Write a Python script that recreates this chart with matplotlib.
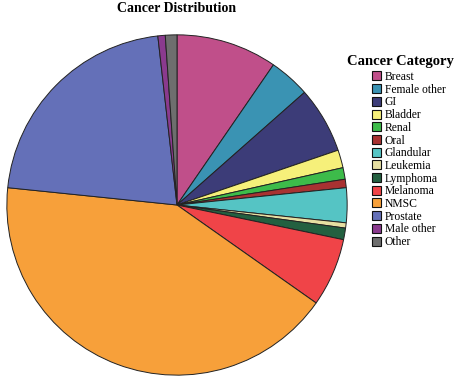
import numpy as np
import matplotlib.pyplot as plt

categories = ['Breast', 'Female other', 'GI', 'Bladder', 'Renal', 'Oral', 'Glandular',
              'Leukemia', 'Lymphoma', 'Melanoma', 'NMSC', 'Prostate', 'Male other', 'Other']
share = [9.6, 3.9, 6.3, 1.7, 1.1, 0.8, 3.3, 0.5, 1.1, 6.5, 41.9, 21.6, 0.7, 1.1]
colors = ['#C04F8A', '#3A93B3', '#3C3C78', '#F6F07A', '#3DBB4A', '#A83232', '#55C4C4',
          '#E6DFA2', '#236040', '#F04448', '#F7A03A', '#6470B8', '#8A3A8E', '#6E6E6E']

plt.rcParams['font.family'] = ['Liberation Serif', 'DejaVu Serif']

fig = plt.figure(figsize=(4.54, 3.79), dpi=100)
ax = fig.add_axes([6/454, 3/379, 342/454, 342/379])
wedges, _ = ax.pie(share, colors=colors, startangle=90, counterclock=False,
                   wedgeprops=dict(edgecolor='#222222', linewidth=0.7))
ax.set_xlim(-1.005, 1.005)
ax.set_ylim(-1.005, 1.005)
ax.set_aspect('equal')

fig.text(177/454, 1 - 8/379, 'Cancer Distribution', ha='center', va='center',
         fontsize=10, fontweight='bold')
fig.text(400/454, 1 - 62/379, 'Cancer Category', ha='center', va='center',
         fontsize=10.5, fontweight='bold')

leg = fig.legend(wedges, categories, loc='upper left', bbox_to_anchor=(372/454, 1 - 71/379),
                 frameon=False, fontsize=8.4,
                 handlelength=0.8, handleheight=0.8, handletextpad=0.3,
                 labelspacing=0.06, borderaxespad=0, borderpad=0)
for h in leg.legend_handles:
    h.set_edgecolor('#111111')
    h.set_linewidth(0.8)

fig.savefig('out.png', dpi=100)
